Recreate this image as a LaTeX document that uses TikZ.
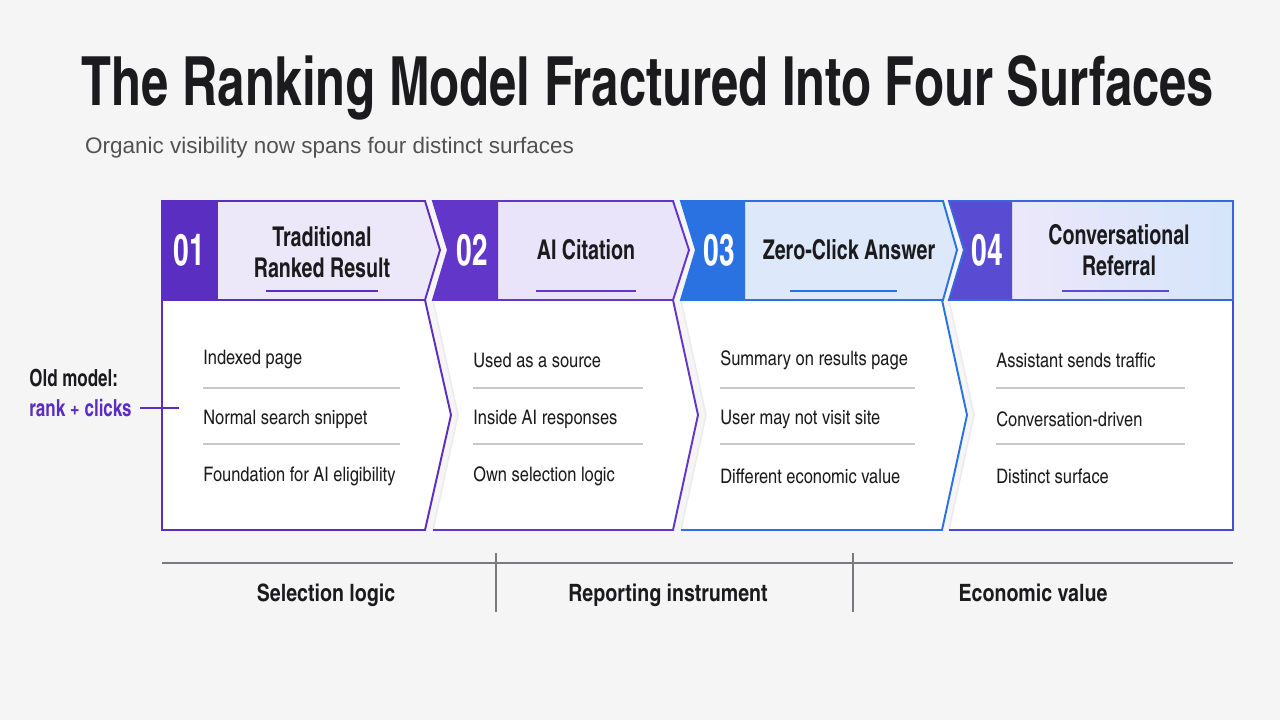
\documentclass[tikz,border=0pt]{standalone}
\usepackage{fontspec}
\setmainfont{texgyreheroscn}[Extension=.otf, UprightFont=*-regular, BoldFont=*-bold]
\newfontfamily\narrowcn{texgyreheroscn}[Extension=.otf, UprightFont=*-regular, BoldFont=*-bold, FakeStretch=0.88]
\newfontfamily\tightcn{texgyreheroscn}[Extension=.otf, UprightFont=*-regular, BoldFont=*-bold, FakeStretch=0.78]
\newfontfamily\plainsans{Liberation Sans}
\usetikzlibrary{positioning}
\definecolor{bgc}{HTML}{F5F5F6}
\definecolor{vio}{HTML}{5B2EC2}
\definecolor{vioB}{HTML}{6236C8}
\definecolor{blu}{HTML}{2A72E2}
\definecolor{ind}{HTML}{5A4BD3}
\definecolor{lav}{HTML}{EDE7FA}
\definecolor{lavB}{HTML}{EAE4FA}
\definecolor{sky}{HTML}{DDE8FA}
\definecolor{skyB}{HTML}{D5E5FA}
\definecolor{ink}{HTML}{1B1B1D}
\definecolor{sep}{HTML}{C9C9CC}
\definecolor{rule}{HTML}{7A7A7E}
\begin{document}
\begin{tikzpicture}[x=0.02cm, y=-0.02cm,
  ttl/.style={font=\narrowcn\fontsize{38.6}{44}\selectfont\bfseries, text=ink},
  sub/.style={font=\plainsans\fontsize{12.8}{15}\selectfont, text=black!68, anchor=west},
  num/.style={font=\tightcn\fontsize{25}{28}\selectfont\bfseries, text=white},
  hd/.style={font=\narrowcn\fontsize{15.5}{17.5}\selectfont\bfseries, text=ink, align=center},
  bar/.style={line width=1.7pt},
  item/.style={font=\fontsize{11.4}{13}\selectfont, text=ink, anchor=west, inner sep=0pt},
  div/.style={draw=sep, line width=0.6pt},
  low/.style={font=\fontsize{13.6}{16}\selectfont\bfseries, text=ink, anchor=base},
  old/.style={font=\narrowcn\fontsize{13.4}{16}\selectfont\bfseries, anchor=west, inner sep=0pt},
  faint/.style={draw=black!8, line width=0.8pt},
]
  \fill[bgc] (0,0) rectangle (1280,720);

  % title
  \node[ttl] (title) at (648,88) {The Ranking Model Fractured Into Four Surfaces};
  \node[sub] (subt) at (79,148) {Organic visibility now spans four distinct surfaces};

  % bodies
  \filldraw[fill=white, draw=vio, line width=1.1pt] (162,300) -- (425,300) -- (451,415) -- (425,530) -- (162,530) -- cycle;
  \fill[white] (433,300) -- (673,300) -- (698,415) -- (673,530) -- (433,530) -- (458,415) -- cycle;
  \draw[faint] (433,300) -- (458,415) -- (433,530);
  \draw[vioB, line width=1.1pt] (433,530) -- (673,530) -- (698,415) -- (673,300);
  \fill[white] (681,300) -- (942,300) -- (967,415) -- (942,530) -- (681,530) -- (706,415) -- cycle;
  \draw[faint] (681,300) -- (706,415) -- (681,530);
  \draw[blu, line width=1.1pt] (681,530) -- (942,530) -- (967,415) -- (942,300);
  \fill[white] (949,300) -- (1233,300) -- (1233,530) -- (949,530) -- (974,415) -- cycle;
  \draw[faint] (949,300) -- (974,415) -- (949,530);
  \draw[blu!45!vio, line width=1.1pt] (949,530) -- (1233,530) -- (1233,300);

  % headers
  \fill[lav] (218,201) -- (425,201) -- (440,250) -- (425,300) -- (218,300) -- cycle;
  \fill[vio] (162,201) rectangle (218,300);
  \draw[vio, line width=1.1pt] (162,201) -- (425,201) -- (440,250) -- (425,300) -- (162,300) -- cycle;

  \fill[lavB] (498,201) -- (673,201) -- (689,250) -- (673,300) -- (498,300) -- cycle;
  \fill[vioB] (433,201) -- (498,201) -- (498,300) -- (433,300) -- (448,250) -- cycle;
  \draw[vioB, line width=1.1pt] (433,201) -- (673,201) -- (689,250) -- (673,300) -- (433,300) -- (448,250) -- cycle;

  \fill[sky] (745,201) -- (943,201) -- (957,250) -- (943,300) -- (745,300) -- cycle;
  \fill[blu] (681,201) -- (745,201) -- (745,300) -- (681,300) -- (696,250) -- cycle;
  \draw[blu, line width=1.1pt] (681,201) -- (943,201) -- (957,250) -- (943,300) -- (681,300) -- (696,250) -- cycle;

  \shade[left color=lav, right color=skyB] (1012,201) rectangle (1233,300);
  \fill[ind] (949,201) -- (1012,201) -- (1012,300) -- (949,300) -- (964,250) -- cycle;
  \draw[blu!70!ind, line width=1.1pt] (949,201) -- (1233,201) -- (1233,300) -- (949,300) -- (964,250) -- cycle;

  \node[num] (n1) at (189,250) {01};
  \node[num] (n2) at (472,250) {02};
  \node[num] (n3) at (719,250) {03};
  \node[num] (n4) at (987,250) {04};

  \node[hd] (h1) at (322,252) {Traditional\\Ranked Result};
  \node[hd] (h2) at (586,250) {AI Citation};
  \node[hd] (h3) at (849,250) {Zero-Click Answer};
  \node[hd] (h4) at (1119,250) {Conversational\\Referral};

  \draw[bar, vio] (266,291) -- (378,291);
  \draw[bar, vioB] (536,291) -- (636,291);
  \draw[bar, blu] (790,291) -- (897,291);
  \draw[bar, ind] (1062,291) -- (1169,291);

  % items
  \node[item] (a1) at (203,360) {Indexed page};
  \node[item] (a2) at (203,419) {Normal search snippet};
  \node[item] (a3) at (203,476) {Foundation for AI eligibility};
  \draw[div] (203,388) -- (400,388);
  \draw[div] (203,444) -- (400,444);

  \node[item] (b1) at (473,360) {Used as a source};
  \node[item] (b2) at (473,419) {Inside AI responses};
  \node[item] (b3) at (473,476) {Own selection logic};
  \draw[div] (473,388) -- (643,388);
  \draw[div] (473,444) -- (643,444);

  \node[item] (c1) at (720,360) {Summary on results page};
  \node[item] (c2) at (720,419) {User may not visit site};
  \node[item] (c3) at (720,476) {Different economic value};
  \draw[div] (720,388) -- (915,388);
  \draw[div] (720,444) -- (915,444);

  \node[item] (d1) at (996,360) {Assistant sends traffic};
  \node[item] (d2) at (996,419) {Conversation-driven};
  \node[item] (d3) at (996,476) {Distinct surface};
  \draw[div] (996,388) -- (1185,388);
  \draw[div] (996,444) -- (1185,444);

  % old model
  \node[old, text=ink] (old) at (29,378) {Old model:};
  \node[old, text=vio] (rc) at (29,408) {rank + clicks};
  \coordinate (oc) at (179,408);
  \draw[vio, line width=1.3pt, shorten <=4.5pt] (rc.east) -- (oc);

  % bottom axis
  \draw[rule, line width=1pt] (162,563) -- (1233,563);
  \draw[rule, line width=0.8pt] (496,553) -- (496,612);
  \draw[rule, line width=0.8pt] (853,553) -- (853,612);
  \node[low] (s1) at (326,601) {Selection logic};
  \node[low] (s2) at (668,601) {Reporting instrument};
  \node[low] (s3) at (1033,601) {Economic value};
\end{tikzpicture}
\end{document}
